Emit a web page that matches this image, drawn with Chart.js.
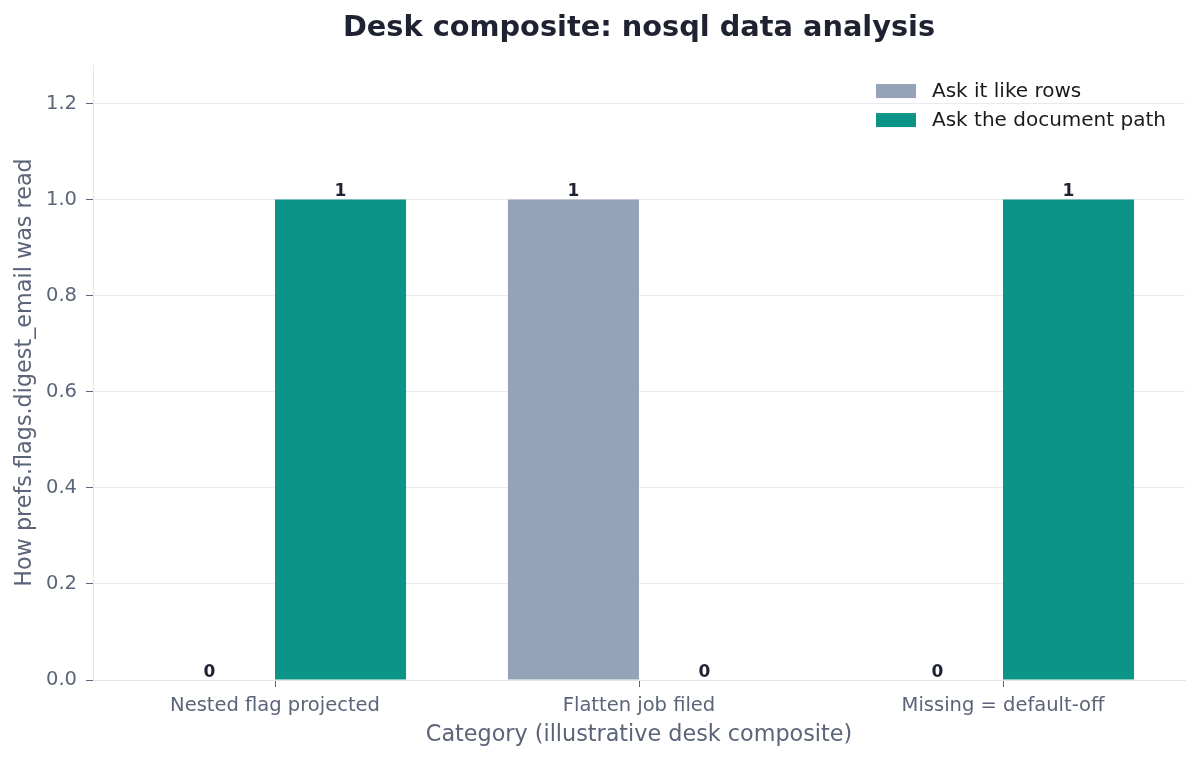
<!DOCTYPE html>
<html><head><meta charset="utf-8">
<script src="https://cdn.jsdelivr.net/npm/chart.js@4"></script>
<style>html,body{margin:0;padding:0;background:#fff}#wrap{width:1200px;height:760px}</style>
</head><body><div id="wrap"><canvas id="c" width="1200" height="760"></canvas></div>
<script>
const categories = ["Nested flag projected", "Flatten job filed", "Missing = default-off"];
const seriesNames = ["Ask it like rows", "Ask the document path"];
const rowsValues = [0, 1, 0];
const pathValues = [1, 0, 1];
const yTicks = [0, 0.2, 0.4, 0.6, 0.8, 1.0, 1.2];
const colors = ["#94a3b8", "#0d9488"];
const FONT = "'DejaVu Sans', sans-serif";
const tickColor = "#5b6478";

const valueLabels = {
  id: 'valueLabels',
  afterDatasetsDraw(chart) {
    const ctx = chart.ctx;
    ctx.save();
    ctx.font = "bold 17px " + FONT;
    ctx.fillStyle = "#1e2231";
    ctx.textAlign = "center";
    ctx.textBaseline = "alphabetic";
    chart.data.datasets.forEach((ds, i) => {
      const meta = chart.getDatasetMeta(i);
      meta.data.forEach((bar, j) => {
        ctx.fillText(String(ds.data[j]), bar.x, bar.y - 3.5);
      });
    });
    ctx.restore();
  }
};

const innerLegend = {
  id: 'innerLegend',
  afterDraw(chart) {
    const ctx = chart.ctx, a = chart.chartArea;
    ctx.save();
    ctx.font = "20px " + FONT;
    ctx.textBaseline = "middle";
    ctx.textAlign = "left";
    chart.data.datasets.forEach((ds, i) => {
      const y = a.top + 26 + i * 29;
      const x = a.right - 309;
      ctx.fillStyle = ds.backgroundColor;
      ctx.fillRect(x, y - 7, 40, 14);
      ctx.fillStyle = "#1a1a1a";
      ctx.fillText(ds.label, x + 56, y + 1);
    });
    ctx.restore();
  }
};

new Chart(document.getElementById('c'), {
  type: 'bar',
  data: {
    labels: categories,
    datasets: [
      { label: seriesNames[0], data: rowsValues, backgroundColor: colors[0] },
      { label: seriesNames[1], data: pathValues, backgroundColor: colors[1] }
    ]
  },
  options: {
    responsive: false,
    animation: false,
    devicePixelRatio: 1,
    layout: { padding: { left: 0, right: 15, top: 0, bottom: 0 } },
    datasets: { bar: { categoryPercentage: 0.72, barPercentage: 1.0 } },
    plugins: {
      legend: { display: false },
      tooltip: { enabled: false },
      title: {
        display: true,
        fullSize: false,
        text: "Desk composite: nosql data analysis",
        color: "#1e2231",
        font: { family: FONT, size: 28.8, weight: 'bold' },
        padding: { top: 11, bottom: 19.5 }
      }
    },
    scales: {
      x: {
        afterFit(s) { s.height = 80; },
        border: { color: "#e3e5ea", width: 1 },
        grid: { display: true, drawOnChartArea: false, offset: false, drawTicks: true, tickLength: 7, tickColor: tickColor },
        ticks: { color: tickColor, font: { family: FONT, size: 19.5 }, padding: 7, maxRotation: 0 },
        title: { display: true, text: "Category (illustrative desk composite)", color: tickColor, font: { family: FONT, size: 22.3 }, padding: { top: 4, bottom: 11 } }
      },
      y: {
        min: 0, max: 1.28,
        afterFit(s) { s.width = 93; },
        afterBuildTicks(s) { s.ticks = yTicks.map(v => ({ value: v })); },
        border: { color: "#e3e5ea", width: 1 },
        grid: { color: "#e8eaee", lineWidth: 1, drawTicks: true, tickLength: 7, tickColor: tickColor },
        ticks: { color: tickColor, font: { family: FONT, size: 19.5 }, padding: 9, callback: v => Number(v).toFixed(1) },
        title: { display: true, text: "How prefs.flags.digest_email was read", color: tickColor, font: { family: FONT, size: 22.3 }, padding: { top: 12, bottom: 0 } }
      }
    }
  },
  plugins: [valueLabels, innerLegend]
});
</script></body></html>
